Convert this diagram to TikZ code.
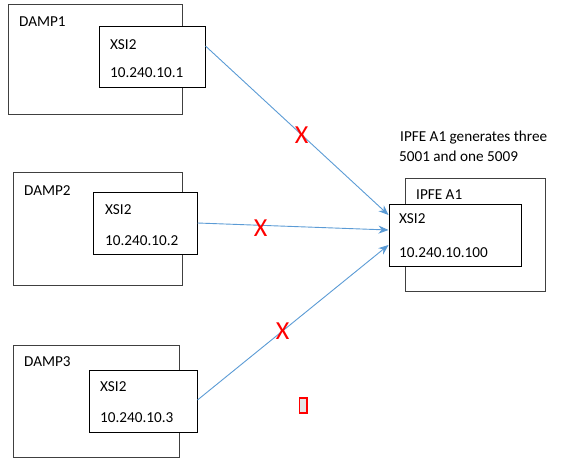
\documentclass[tikz,border=0pt]{standalone}
\usepackage{fontspec}
\setmainfont{Carlito}
\usetikzlibrary{arrows.meta}

\definecolor{linkblue}{HTML}{5B9BD5}
\definecolor{framegray}{HTML}{404040}

\begin{document}
\begin{tikzpicture}[x=1pt,y=-1pt,
	damp/.style={draw=framegray,line width=1pt,fill=white,inner sep=0pt},
	xsi/.style={draw=black,line width=1pt,fill=white,inner sep=0pt},
	lbl/.style={anchor=base west,inner sep=0pt,font=\fontsize{15.2}{17}\selectfont},
	link/.style={draw=linkblue,line width=0.9pt,-{Stealth[length=10pt,width=8pt]}},
	cross/.style={text=red,inner sep=0pt,font=\fontsize{26}{28}\selectfont}]
	\useasboundingbox (0,0) rectangle (565,465);

	\node (damp1) [damp,minimum width=174pt,minimum height=110pt] at (95,60) {};
	\node (xsi1) [xsi,minimum width=106pt,minimum height=61pt] at (152,57.5) {};
	\node (damp2) [damp,minimum width=169pt,minimum height=112pt] at (97.5,229) {};
	\node (xsi2) [xsi,minimum width=104pt,minimum height=62pt] at (145,224) {};
	\node (damp3) [damp,minimum width=166pt,minimum height=112pt] at (96,401) {};
	\node (xsi3) [xsi,minimum width=108pt,minimum height=62pt] at (143,401) {};
	\node (ipfe) [damp,minimum width=140pt,minimum height=112pt] at (475,235) {};
	\node (xsi4) [xsi,minimum width=132pt,minimum height=61pt] at (455,235.5) {};

	\node (t1) [lbl] at (19,26.5) {DAMP1};
	\node (x1) [lbl] at (110,49.5) {XSI2};
	\node (a1) [lbl] at (110,77.5) {10.240.10.1};
	\node (t2) [lbl] at (24,195.5) {DAMP2};
	\node (x2) [lbl] at (105,214.5) {XSI2};
	\node (a2) [lbl] at (105,245.5) {10.240.10.2};
	\node (t3) [lbl] at (24,366.5) {DAMP3};
	\node (x3) [lbl] at (100,391.5) {XSI2};
	\node (a3) [lbl] at (100,422.5) {10.240.10.3};
	\node (t4) [lbl] at (416,199.5) {IPFE A1};
	\node (x4) [lbl] at (399,223.5) {XSI2};
	\node (a4) [lbl] at (399,257.5) {10.240.10.100};
	\node (h1) [lbl] at (400,141.5) {IPFE A1 generates three};
	\node (h2) [lbl] at (399,161.5) {5001 and one 5009};

	\node (glyph) [draw=red,line width=1.5pt,fill=gray!20,inner sep=0pt,minimum width=7.5pt,minimum height=15pt] at (303,405.5) {};

	\draw [link] ([yshift=11.5pt]xsi1.east) -- ([yshift=20.5pt]xsi4.west) node (c1) [cross,pos=0.525] {X};
	\draw [link] ([yshift=1pt]xsi2.east) -- ([yshift=5.5pt]xsi4.west) node (c2) [cross,pos=0.33,yshift=-3pt] {X};
	\draw [link] ([yshift=1pt]xsi3.east) -- ([yshift=-9.5pt]xsi4.west) node (c3) [cross,pos=0.445] {X};
\end{tikzpicture}
\end{document}
